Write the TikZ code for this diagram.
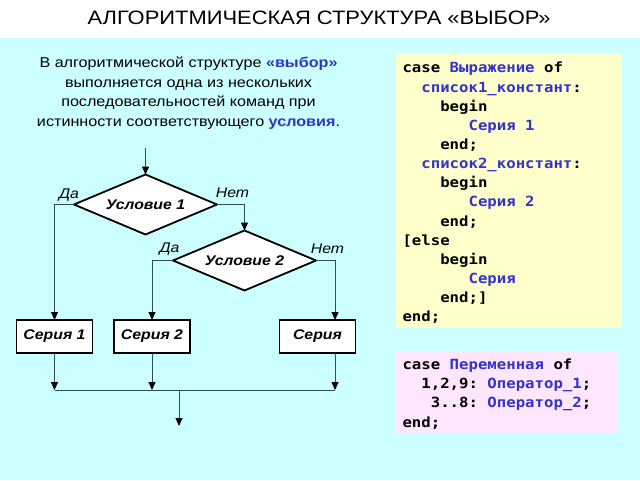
\documentclass[tikz,border=0pt]{standalone}
\usepackage{fontspec}
\setmainfont{Liberation Sans}[FakeStretch=1.13]
\setsansfont{Liberation Sans}[FakeStretch=1.13]
\setmonofont{DejaVu Sans Mono}[FakeStretch=1.12]
\usetikzlibrary{arrows.meta,shapes.geometric}
\definecolor{bgcyan}{RGB}{204,255,255}
\definecolor{codeyellow}{RGB}{255,255,204}
\definecolor{codepink}{RGB}{255,230,255}
\definecolor{codeblue}{RGB}{51,51,204}
\definecolor{lineteal}{RGB}{47,79,79}
\newcommand\kw[1]{\textcolor{codeblue}{#1}}
\newcommand\ind[1]{\hspace*{#1\fontcharwd\font`x}}

\begin{document}
\begin{tikzpicture}[x=1pt,y=-1pt,font=\sffamily,
   decision/.style={diamond,draw=black,fill=white,line width=1.8pt,inner sep=0pt,outer sep=0pt,
      aspect=2.4,minimum width=143pt,minimum height=60pt,font=\fontsize{14}{16}\selectfont\bfseries\itshape},
   series/.style={rectangle,draw=black,fill=white,line width=1.8pt,inner sep=0pt,outer sep=0pt,
      minimum width=76pt,minimum height=33pt,font=\fontsize{14}{16}\selectfont\bfseries\itshape},
   lbl/.style={inner sep=0pt,font=\fontsize{14}{16}\selectfont\itshape},
   code/.style={inner sep=0pt,align=left,anchor=north west,font=\fontsize{14}{19.15}\selectfont\ttfamily\bfseries},
   flow/.style={draw=lineteal,line width=1pt,-{Triangle[length=8pt,width=7pt,color=black]}}]
   \useasboundingbox (0,0) rectangle (640,480);
% Background
   \fill [white] (0,0) rectangle (640,38);
   \fill [bgcyan] (0,38) rectangle (640,480);
   \fill [codeyellow] (396,53) rectangle (622,328);
   \fill [codepink] (396,352) rectangle (618,434);
% Title and text
   \node (title) [anchor=base,font=\fontsize{19.4}{23}\selectfont] at (319,24.3)
        {АЛГОРИТМИЧЕСКАЯ СТРУКТУРА «ВЫБОР»};
   \node (intro) [anchor=north,align=center,inner sep=0pt,font=\fontsize{14.3}{19.5}\selectfont] at (188.5,53.7)
        {\strut В алгоритмической структуре \textcolor{codeblue}{\bfseries «выбор»}\\
         выполняется одна из нескольких\\
         последовательностей команд при\\
         истинности соответствующего \textcolor{codeblue}{\bfseries условия}.};
% Code
   \node (case) [code] at (402.3,59.3)
        {\strut case \kw{Выражение} of\\
         \ind{2}\kw{список1\_констант}:\\
         \ind{4}begin\\
         \ind{7}\kw{Серия 1}\\
         \ind{4}end;\\
         \ind{2}\kw{список2\_констант}:\\
         \ind{4}begin\\
         \ind{7}\kw{Серия 2}\\
         \ind{4}end;\\
         {[}else\\
         \ind{4}begin\\
         \ind{7}\kw{Серия}\\
         \ind{4}end;]\\
         end;};
   \node (casevar) [code] at (402.3,356)
        {\strut case \kw{Переменная} of\\
         \ind{2}1,2,9: \kw{Оператор\_1};\\
         \ind{3}3..8: \kw{Оператор\_2};\\
         end;};
% Flowchart
   \coordinate (in) at (145.5,148);
   \node (cond1) [decision] at (145.5,204.5) {Условие 1};
   \node (cond2) [decision] at (244.5,260.5) {Условие 2};
   \node (ser1) [series] at (54.5,336.5) {Серия 1};
   \node (ser2) [series] at (152,336.5) {Серия 2};
   \node (ser3) [series] at (317.5,336.5) {Серия};
   \node (yes1) [lbl] at (69,195) {Да};
   \node (no1) [lbl] at (232.5,193) {Нет};
   \node (yes2) [lbl] at (169.5,249) {Да};
   \node (no2) [lbl] at (327.5,249) {Нет};
   \coordinate (ser3in) at ([xshift=17.5pt]ser3.north);
   \coordinate (ser3out) at ([xshift=17.5pt]ser3.south);
   \coordinate (join1) at (54.5,390);
   \coordinate (join2) at (152,390);
   \coordinate (join3) at (335,390);
   \coordinate (joinout) at (179,390);
   \coordinate (out) at (179,426);
   \draw [flow] (in) -- (cond1.north);
   \draw [flow] (cond1.west) -| (ser1.north);
   \draw [flow] (cond1.east) -| (cond2.north);
   \draw [flow] (cond2.west) -| (ser2.north);
   \draw [flow] (cond2.east) -| (ser3in);
   \draw [flow] (ser1.south) -- (join1);
   \draw [flow] (ser2.south) -- (join2);
   \draw [flow] (ser3out) -- (join3);
   \draw [draw=lineteal,line width=1pt] (join1) -- (join3);
   \draw [flow] (joinout) -- (out);
\end{tikzpicture}
\end{document}
